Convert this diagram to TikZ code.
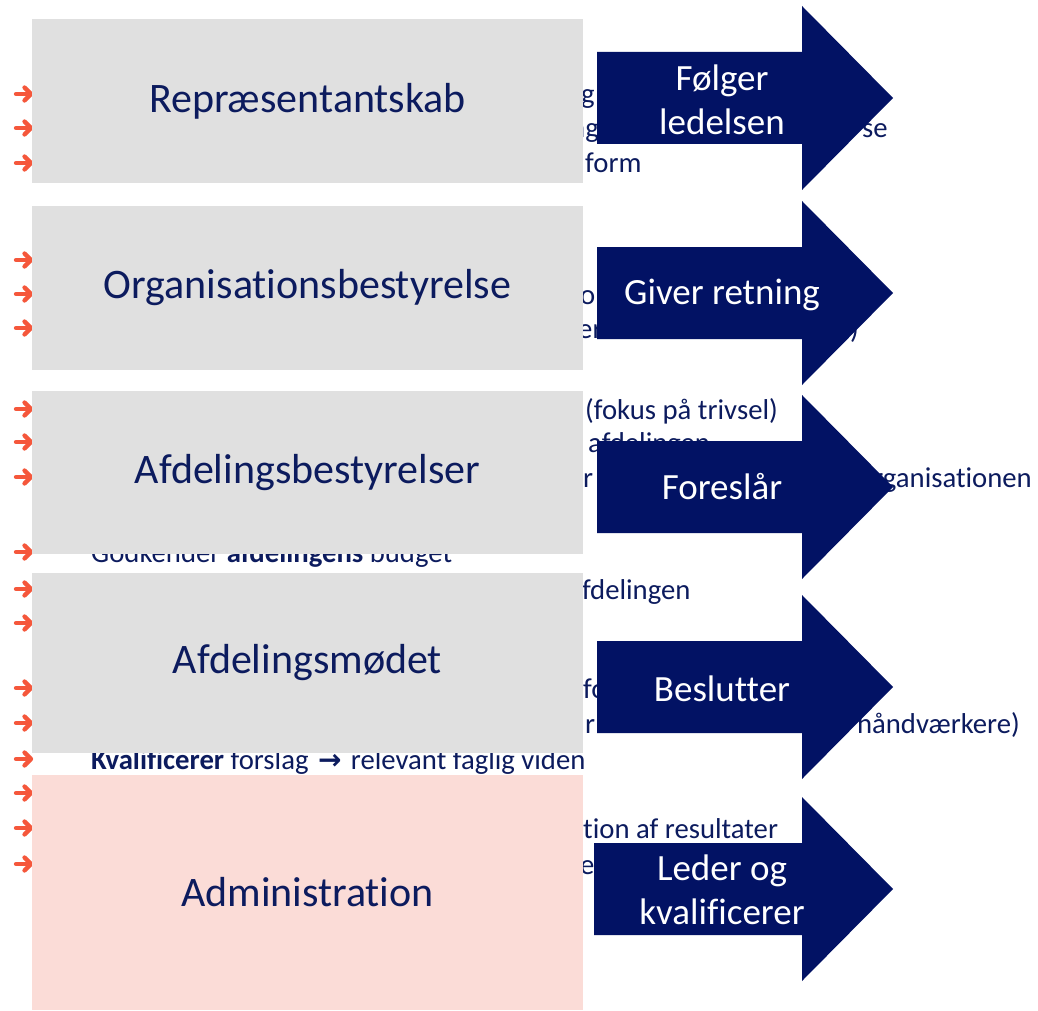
\documentclass[tikz,border=0pt]{standalone}
\usepackage{fontspec}
\setmainfont{Carlito}[Ligatures={NoCommon,NoRare,NoContextual}]
\newfontfamily\symfont{DejaVu Sans}
\usetikzlibrary{arrows.meta}
\definecolor{navy}{HTML}{021264}
\definecolor{txtnavy}{HTML}{0C1B5E}
\definecolor{boxgray}{HTML}{E0E0E0}
\definecolor{boxpink}{HTML}{FBDCD7}
\definecolor{bulorange}{HTML}{F5573B}
\tikzset{
  bul/.style={anchor=base west, inner sep=0pt, text=txtnavy, font=\fontsize{28.7}{34}\selectfont},
  bulr/.style={bul, anchor=base east},
  orgbox/.style={fill=boxgray, draw=none, minimum width=551pt, text=txtnavy,
    font=\fontsize{42}{50}\selectfont, inner sep=0pt},
  arrtxt/.style={text=white, font=\fontsize{37}{44}\selectfont, align=center, inner sep=0pt},
  orshaft/.style={draw=bulorange, line width=4.3pt, line cap=round, line join=round}
}
\newcommand\orarr[1]{%
  \draw[orshaft] (16,#1) -- (29,#1);
  \draw[orshaft] (24.5,#1-6.5) -- (31,#1) -- (24.5,#1+6.5);}
\newcommand\bigarr[5]{%
  \fill[navy] (#3,#2-46) -- (802,#2-46) -- (802,#2-92) -- (893,#2) -- (802,#2+92) -- (802,#2+46) -- (#3,#2+46) -- cycle;
  \node[arrtxt] (#1) at (722,#4) {#5};}
\begin{document}
\begin{tikzpicture}[x=1pt,y=-1pt]
\useasboundingbox (0,0) rectangle (1038,1011);
\fill[white] (0,0) rectangle (1038,1011);
% bullets
\foreach \cy in {94,128,163,260,294,328,409,442,477,552,589,623,688,723,759,793,828,864}{\orarr{\cy}}
% background text fragments
\node[bul] (t1) at (581,104) {g};
\node[bul] (t2) at (570,138) {ng};
\node[bul] (t2b) at (862,138) {se};
\node[bul] (t3) at (585,173) {form};
\node[bul] (t4) at (580,304) {o};
\node[bul] (t5) at (578,338) {er};
\node[bul] (t5b) at (850,338) {)};
\node[bul] (t6) at (585,419) {(fokus på trivsel)};
\node[bul] (t7) at (588,452) {afdelingen};
\node[bul] (t8) at (583,487) {r m};
\node[bulr] (t8b) at (1032,487) {organisationen};
\node[bul] (t9) at (91,562) {Godkender \textbf{afdelingens} budget};
\node[bul] (t10) at (582,599) {fdelingen};
\node[bul] (t11) at (583,698) {fo};
\node[bul] (t12) at (585,733) {r};
\node[bulr] (t12b) at (1020,733) {håndværkere)};
\node[bul] (t13) at (91,769) {\textbf{Kvalificerer} forslag\hspace{3pt} {\symfont\bfseries\fontsize{28}{34}\selectfont →}\hspace{3pt} relevant faglig viden};
\node[bul] (t14) at (583,838) {tion af resultater};
\node[bul] (t15) at (580,874) {er};
% boxes
\node[orgbox, minimum height=164pt] (b1) at (307.5,101) {Repræsentantskab};
\node[orgbox, minimum height=164pt] (b2) at (307.5,288) {Organisationsbestyrelse};
\node[orgbox, minimum height=163pt] (b3) at (307.5,472.5) {Afdelingsbestyrelser};
\node[orgbox, minimum height=180pt] (b4) at (307.5,663) {Afdelingsmødet};
\node[orgbox, fill=boxpink, minimum height=235pt] (b5) at (307.5,892.5) {Administration};
% arrows
\bigarr{a1}{98}{597}{100}{Følger\\ledelsen}
\bigarr{a2}{293}{597}{295}{Giver retning}
\bigarr{a3}{487}{597}{487}{Foreslår}
\bigarr{a4}{687}{597}{689}{Beslutter}
\bigarr{a5}{889}{594}{890}{Leder og\\kvalificerer}
\end{tikzpicture}
\end{document}
